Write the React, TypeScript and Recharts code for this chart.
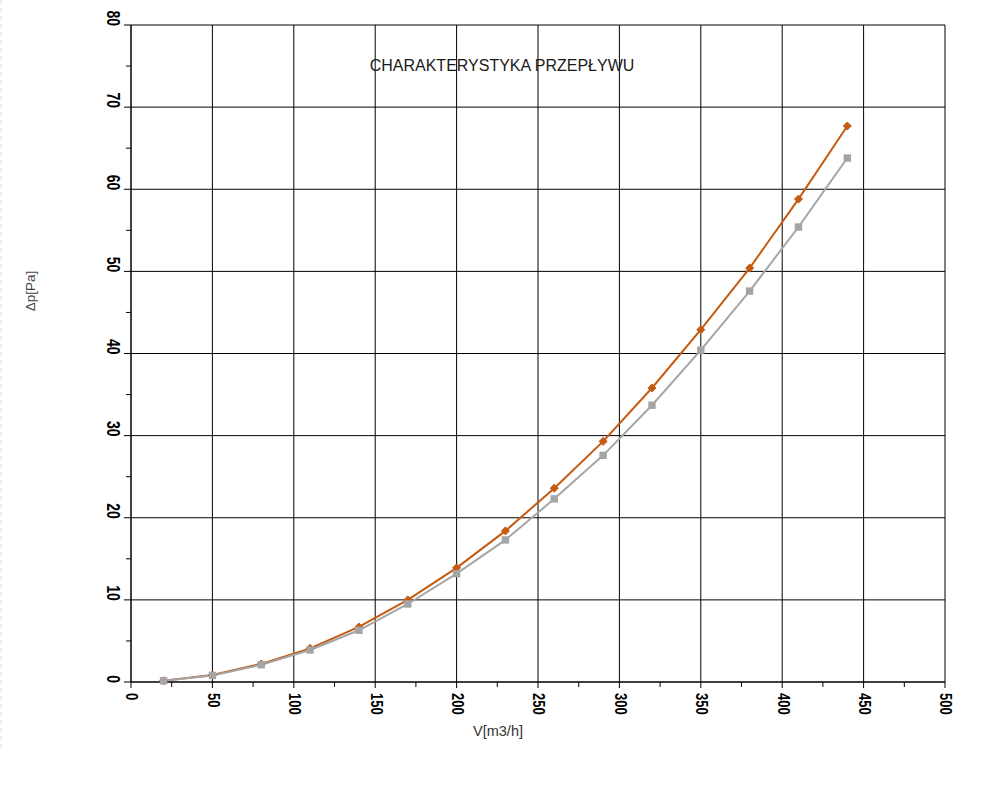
import React from 'react';
import { LineChart, Line, XAxis, YAxis, CartesianGrid } from 'recharts';

const flowRates = [20, 50, 80, 110, 140, 170, 200, 230, 260, 290, 320, 350, 380, 410, 440];
const pressureA = [0.15, 0.85, 2.2, 4.1, 6.7, 10.0, 13.9, 18.4, 23.6, 29.3, 35.8, 42.9, 50.4, 58.8, 67.7];
const pressureB = [0.15, 0.8, 2.1, 3.9, 6.3, 9.5, 13.2, 17.3, 22.3, 27.6, 33.7, 40.4, 47.6, 55.4, 63.8];

const xTicks = [0, 25, 50, 75, 100, 125, 150, 175, 200, 225, 250, 275, 300, 325, 350, 375, 400, 425, 450, 475, 500];
const xMajor = [0, 50, 100, 150, 200, 250, 300, 350, 400, 450, 500];
const yTicks = [0, 5, 10, 15, 20, 25, 30, 35, 40, 45, 50, 55, 60, 65, 70, 75, 80];
const yMajor = [0, 10, 20, 30, 40, 50, 60, 70, 80];

const titleText = 'CHARAKTERYSTYKA PRZEPŁYWU';
const xTitle = 'V[m3/h]';
const yTitle = 'Δp[Pa]';

const data = flowRates.map((v, i) => ({ v, a: pressureA[i], b: pressureB[i] }));

const ORANGE = '#C55A11';
const GRAY = '#A5A5A5';

const YTick = (props: any) => {
  const { x, y, payload } = props;
  const major = yMajor.includes(payload.value);
  return (
    <g>
      <line x1={x - (major ? 7 : 5)} x2={x} y1={y} y2={y} stroke="#000" strokeWidth={1} />
      {major && (
        <text
          transform={`translate(${x - 18},${y + 1}) rotate(90) scale(1,1.25)`}
          textAnchor="end"
          dominantBaseline="central"
          fontFamily="Liberation Sans, Arial, sans-serif"
          fontWeight="bold"
          fontSize={14}
          fill="#000"
        >
          {payload.value}
        </text>
      )}
    </g>
  );
};

const XTick = (props: any) => {
  const { x, y, payload } = props;
  const major = xMajor.includes(payload.value);
  return (
    <g>
      <line x1={x} x2={x} y1={y} y2={y + (major ? 6 : 5)} stroke="#000" strokeWidth={1} />
      {major && (
        <text
          transform={`translate(${x + 1},${y + 11}) rotate(90) scale(1,1.25)`}
          textAnchor="start"
          dominantBaseline="central"
          fontFamily="Liberation Sans, Arial, sans-serif"
          fontWeight="bold"
          fontSize={13}
          fill="#000"
        >
          {payload.value}
        </text>
      )}
    </g>
  );
};

const DiamondDot = (props: any) => {
  const { cx, cy, index } = props;
  if (cx == null || cy == null) return <g key={`d${index}`} />;
  const r = 4;
  return (
    <path
      key={`d${index}`}
      d={`M${cx},${cy - r} L${cx + r},${cy} L${cx},${cy + r} L${cx - r},${cy} Z`}
      fill={ORANGE}
      stroke={ORANGE}
      strokeWidth={1}
    />
  );
};

const SquareDot = (props: any) => {
  const { cx, cy, index } = props;
  if (cx == null || cy == null) return <g key={`s${index}`} />;
  const h = 3.7;
  return <rect key={`s${index}`} x={cx - h} y={cy - h} width={2 * h} height={2 * h} fill={GRAY} />;
};

export default function App() {
  return (
    <div style={{ position: 'absolute', left: 0, top: 0, width: 1003, height: 788, background: '#fff' }}>
      <LineChart
        width={1003}
        height={788}
        data={data}
        margin={{ top: 25, right: 58, bottom: 0, left: 0 }}
      >
        <CartesianGrid
          stroke="#000"
          strokeWidth={1}
          horizontalValues={yMajor}
          verticalValues={xMajor}
        />
        <XAxis
          type="number"
          dataKey="v"
          domain={[0, 500]}
          ticks={xTicks}
          interval={0}
          height={106}
          tickSize={0}
          tickMargin={0}
          tickLine={false}
          axisLine={{ stroke: '#000', strokeWidth: 1 }}
          tick={<XTick />}
        />
        <YAxis
          type="number"
          domain={[0, 80]}
          ticks={yTicks}
          interval={0}
          width={131}
          tickSize={0}
          tickMargin={0}
          tickLine={false}
          axisLine={{ stroke: '#000', strokeWidth: 1 }}
          tick={<YTick />}
        />
        <Line
          type="linear"
          dataKey="a"
          stroke={ORANGE}
          strokeWidth={2}
          dot={<DiamondDot />}
          activeDot={false}
          isAnimationActive={false}
        />
        <Line
          type="linear"
          dataKey="b"
          stroke={GRAY}
          strokeWidth={2}
          dot={<SquareDot />}
          activeDot={false}
          isAnimationActive={false}
        />
      </LineChart>
      <svg
        width={1003}
        height={788}
        style={{ position: 'absolute', left: 0, top: 0, pointerEvents: 'none' }}
      >
        <line x1={1} y1={0} x2={1} y2={750} stroke="#d8d8d8" strokeWidth={1} strokeDasharray="4 4" />
        <text
          x={502}
          y={71}
          textAnchor="middle"
          fontFamily="Liberation Sans, Arial, sans-serif"
          fontSize={16}
          fill="#1a1a1a"
        >
          {titleText}
        </text>
        <text
          x={498}
          y={736}
          textAnchor="middle"
          fontFamily="Liberation Sans, Arial, sans-serif"
          fontSize={14.5}
          fill="#333"
        >
          {xTitle}
        </text>
        <text
          transform="translate(30,291) rotate(-90)"
          textAnchor="middle"
          dominantBaseline="central"
          fontFamily="Liberation Sans, Arial, sans-serif"
          fontSize={13.5}
          fill="#444"
        >
          {yTitle}
        </text>
      </svg>
    </div>
  );
}
